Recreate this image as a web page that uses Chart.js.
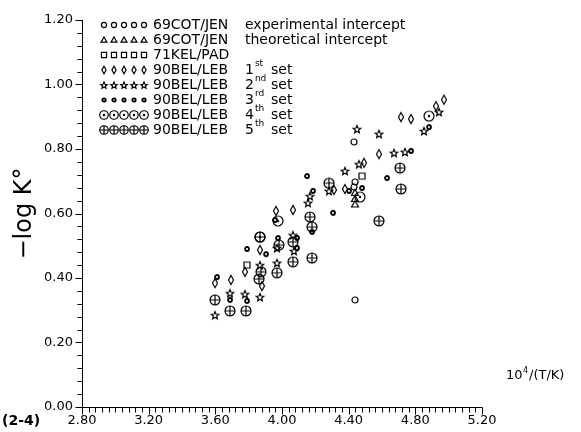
<!DOCTYPE html>
<html>
<head>
<meta charset="utf-8">
<script src="https://cdn.jsdelivr.net/npm/chart.js@4.4.0/dist/chart.umd.min.js"></script>
<style>
  html, body { margin: 0; padding: 0; background: #fff; }
</style>
</head>
<body>
<canvas id="myChart" width="581" height="432"></canvas>
<script>
// x = 10^4/(T/K), y = -log K°
const cotExpX = [4.432, 4.438, 4.432, 4.438];
const cotExpY = [0.822, 0.698, 0.682, 0.332];
const cotTheoX = [4.438, 4.438, 4.438];
const cotTheoY = [0.664, 0.645, 0.628];
const kelX = [4.48, 3.79];
const kelY = [0.716, 0.440];
const bel1X = [4.972, 4.924, 4.714, 4.774, 4.582, 4.492, 4.312, 4.378, 3.964, 4.066, 3.868, 3.598, 3.694, 3.778, 3.880];
const bel1Y = [0.953, 0.933, 0.899, 0.893, 0.784, 0.757, 0.673, 0.676, 0.608, 0.611, 0.487, 0.384, 0.394, 0.419, 0.375];
const bel2X = [4.45, 4.582, 4.852, 4.942, 4.672, 4.738, 4.462, 4.378, 4.282, 4.168, 4.156, 4.066, 4.072, 3.97, 3.97, 3.868, 3.868, 3.688, 3.778, 3.598];
const bel2Y = [0.862, 0.847, 0.856, 0.915, 0.788, 0.791, 0.753, 0.732, 0.670, 0.654, 0.633, 0.533, 0.484, 0.493, 0.447, 0.440, 0.341, 0.353, 0.350, 0.285];
const bel3X = [4.15, 4.186, 4.306, 4.402, 4.48, 4.63, 4.774, 4.882, 3.958, 4.09, 4.09, 3.976, 4.18, 3.79, 3.904, 3.61, 3.688, 3.79];
const bel3Y = [0.716, 0.670, 0.602, 0.670, 0.679, 0.710, 0.794, 0.868, 0.580, 0.524, 0.493, 0.524, 0.543, 0.490, 0.474, 0.403, 0.332, 0.329];
const bel4X = [3.976, 4.468, 4.882, 3.868];
const bel4Y = [0.577, 0.651, 0.902, 0.527];
const bel5X = [4.282, 4.708, 4.714, 4.582, 4.168, 4.18, 4.066, 3.982, 4.18, 4.066, 3.874, 3.862, 3.97, 3.598, 3.688, 3.784, 3.868];
const bel5Y = [0.694, 0.741, 0.676, 0.577, 0.589, 0.558, 0.512, 0.502, 0.462, 0.450, 0.419, 0.397, 0.416, 0.332, 0.298, 0.298, 0.527];

const xTickLabels = ['2.80', '3.20', '3.60', '4.00', '4.40', '4.80', '5.20'];
const yTickLabels = ['0.00', '0.20', '0.40', '0.60', '0.80', '1.00', '1.20'];

const legendNames = ['69COT/JEN', '69COT/JEN', '71KEL/PAD', '90BEL/LEB', '90BEL/LEB', '90BEL/LEB', '90BEL/LEB', '90BEL/LEB'];
const legendNotes = ['experimental intercept', 'theoretical intercept', '', '1', '2', '3', '4', '5'];
const legendSups = ['', '', '', 'st', 'nd', 'rd', 'th', 'th'];
const markerKinds = ['circle', 'triangle', 'square', 'diamond', 'star', 'dot', 'odot', 'oplus'];

const FONT = '"DejaVu Sans", sans-serif';

// small canvases used as point styles
function makeMarker(kind, k) {
  const s = 14, m = 7;
  const c = document.createElement('canvas');
  c.width = s; c.height = s;
  const g = c.getContext('2d');
  g.strokeStyle = '#000';
  g.fillStyle = '#000';
  g.lineWidth = 1.2;
  g.beginPath();
  if (kind === 'circle') {
    g.arc(m, m, 3 * k, 0, Math.PI * 2);
    g.stroke();
  } else if (kind === 'triangle') {
    g.moveTo(m, m - 3.5 * k); g.lineTo(m + 3.5 * k, m + 2.5 * k); g.lineTo(m - 3.5 * k, m + 2.5 * k); g.closePath();
    g.stroke();
  } else if (kind === 'square') {
    g.rect(m - 3 * k, m - 3 * k, 6 * k, 6 * k);
    g.stroke();
  } else if (kind === 'diamond') {
    g.moveTo(m, m - 4.5 * k); g.lineTo(m + 2.5 * k, m); g.lineTo(m, m + 4.5 * k); g.lineTo(m - 2.5 * k, m); g.closePath();
    g.stroke();
  } else if (kind === 'star') {
    for (let i = 0; i < 10; i++) {
      const r = (i % 2 === 0 ? 4 : 1.8) * k;
      const a = -Math.PI / 2 + i * Math.PI / 5;
      const px = m + r * Math.cos(a), py = m + 0.5 + r * Math.sin(a);
      if (i === 0) g.moveTo(px, py); else g.lineTo(px, py);
    }
    g.closePath();
    g.stroke();
  } else if (kind === 'dot') {
    g.lineWidth = 1.8;
    g.arc(m, m, 2 * k, 0, Math.PI * 2);
    g.stroke();
  } else if (kind === 'odot') {
    g.arc(m, m, 5 * k, 0, Math.PI * 2);
    g.stroke();
    g.beginPath();
    g.arc(m, m, 1.2, 0, Math.PI * 2);
    g.fill();
  } else if (kind === 'oplus') {
    g.arc(m, m, 5 * k, 0, Math.PI * 2);
    g.moveTo(m - 5 * k, m); g.lineTo(m + 5 * k, m);
    g.moveTo(m, m - 5 * k); g.lineTo(m, m + 5 * k);
    g.stroke();
  }
  return c;
}
const markers = markerKinds.map(kind => makeMarker(kind, 1));
const legendMarkers = markerKinds.map(kind => makeMarker(kind, 0.85));

function pts(xs, ys) {
  return xs.map((v, i) => ({ x: v, y: ys[i] }));
}

const seriesX = [cotExpX, cotTheoX, kelX, bel1X, bel2X, bel3X, bel4X, bel5X];
const seriesY = [cotExpY, cotTheoY, kelY, bel1Y, bel2Y, bel3Y, bel4Y, bel5Y];

const datasets = seriesX.map((xs, i) => ({
  label: legendNames[i] + ' ' + legendNotes[i] + legendSups[i],
  data: pts(xs, seriesY[i]),
  pointStyle: markers[i],
  pointRadius: 5,
  showLine: false
}));

// axis lines, tick marks, legend block and loose labels
const decorations = {
  id: 'decorations',
  afterDraw(chart) {
    const { ctx, chartArea: a, scales: { x, y } } = chart;
    ctx.save();
    ctx.strokeStyle = '#000';
    ctx.lineWidth = 1;
    ctx.beginPath();
    const bx = Math.round(a.left) + 0.5, by = Math.round(a.bottom) + 0.5;
    ctx.moveTo(bx, a.top);
    ctx.lineTo(bx, by);
    ctx.lineTo(Math.round(a.right) + 0.5, by);
    for (let i = 0; i <= 60; i++) {
      const px = Math.round(x.getPixelForValue(2.8 + i * 0.04)) + 0.5;
      const len = i % 10 === 0 ? 7 : 5;
      ctx.moveTo(px, by);
      ctx.lineTo(px, by + len);
    }
    for (let i = 0; i <= 30; i++) {
      const py = Math.round(y.getPixelForValue(i * 0.04)) + 0.5;
      const len = i % 5 === 0 ? 7 : 5;
      ctx.moveTo(bx, py);
      ctx.lineTo(bx - len, py);
    }
    ctx.stroke();

    // legend
    ctx.fillStyle = '#000';
    ctx.textBaseline = 'middle';
    ctx.textAlign = 'left';
    for (let r = 0; r < legendNames.length; r++) {
      const cy = 25 + r * 15;
      for (let k = 0; k < 5; k++) {
        ctx.drawImage(legendMarkers[r], 104 + k * 10 - 7, cy - 7);
      }
      ctx.font = '14px ' + FONT;
      ctx.fillText(legendNames[r], 153, cy);
      if (legendSups[r]) {
        ctx.fillText(legendNotes[r], 245, cy);
        const w = ctx.measureText(legendNotes[r]).width;
        ctx.font = '9px ' + FONT;
        ctx.fillText(legendSups[r], 245 + w + 1, cy - 6);
        ctx.font = '14px ' + FONT;
        ctx.fillText('set', 271, cy);
      } else if (legendNotes[r]) {
        ctx.fillText(legendNotes[r], 245, cy);
      }
    }

    // x axis title
    ctx.font = '13px ' + FONT;
    ctx.fillText('10', 506, 376);
    ctx.font = '8px ' + FONT;
    ctx.fillText('4', 523, 371);
    ctx.font = '13px ' + FONT;
    ctx.fillText('/(T/K)', 529, 376);

    // figure number
    ctx.font = 'bold 14px ' + FONT;
    ctx.fillText('(2-4)', 2, 421);
    ctx.restore();
  }
};

new Chart(document.getElementById('myChart'), {
  type: 'scatter',
  data: { datasets },
  options: {
    responsive: false,
    animation: false,
    layout: { padding: { left: 0, top: 20, right: 99, bottom: 0 } },
    plugins: { legend: { display: false }, tooltip: { enabled: false } },
    scales: {
      x: {
        type: 'linear',
        min: 2.8,
        max: 5.2,
        afterFit: (s) => { s.height = 25; },
        grid: { display: false, drawTicks: false },
        border: { display: false },
        ticks: {
          stepSize: 0.4,
          padding: 6,
          color: '#000',
          font: { family: FONT, size: 13 },
          maxRotation: 0,
          callback: (v, i) => xTickLabels[i]
        }
      },
      y: {
        min: 0,
        max: 1.2,
        afterFit: (s) => { s.width = 82; },
        grid: { display: false, drawTicks: false },
        border: { display: false },
        title: {
          display: true,
          text: '\u2212log K\u00b0',
          color: '#000',
          font: { family: FONT, size: 24 },
          padding: { top: 10, bottom: 0 }
        },
        ticks: {
          stepSize: 0.2,
          padding: 9,
          color: '#000',
          font: { family: FONT, size: 13 },
          callback: (v, i) => yTickLabels[i]
        }
      }
    }
  },
  plugins: [decorations]
});
</script>
</body>
</html>
